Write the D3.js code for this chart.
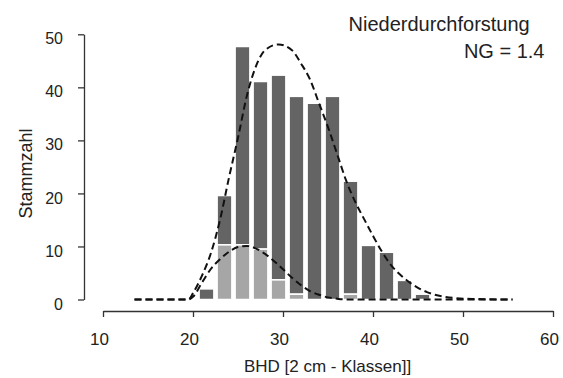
<!DOCTYPE html>
<html>
<head>
<meta charset="utf-8">
<script src="https://cdn.jsdelivr.net/npm/d3@7"></script>
<style>
  html, body { margin: 0; padding: 0; background: #fff; }
  svg { display: block; font-family: "Liberation Sans", Arial, sans-serif; }
</style>
</head>
<body>
<div id="chart"></div>
<script>
// diameter classes (bar centres, cm)
const classMid = [21.5, 23.5, 25.5, 27.5, 29.5, 31.5, 33.5, 35.5, 37.5, 39.5, 41.5, 43.5, 45.5];
// total stems per class (dark) and removed stems (light, bottom part)
const totalCount = [2, 19.6, 47.7, 41.1, 42.3, 38.3, 37, 38.3, 22.3, 10.2, 8.9, 3.6, 1.0];
const removedCount = [0, 10.3, 10.3, 9.5, 3.7, 1, 0, 0, 1, 0, 0, 0, 0];

// fitted distribution curves (dashed)
const fitX = [13.5, 19.5, 20, 21, 22, 23, 24, 25, 26, 27, 28, 29.5, 31, 32, 33, 34, 35, 36, 37, 38, 39, 40, 41, 42, 43, 44, 45, 46, 48, 51, 55.5];
const fitTotal = [0, 0, 1.2, 4.5, 8.8, 15, 23, 30.5, 38.5, 44, 47, 48.1, 47, 44.5, 41.5, 37, 32.5, 27.5, 22.5, 18.5, 15.2, 12, 9, 6.5, 4.7, 3.3, 2.2, 1.4, 0.5, 0.1, 0];
const fitRemoved = [0, 0, 0.5, 3.2, 5.8, 7.6, 9, 9.9, 10.1, 9.6, 8.6, 6.5, 4.1, 2.7, 1.6, 0.9, 0.4, 0.15, 0, 0, 0, 0, 0, 0, 0, 0, 0, 0, 0, 0, 0];

const xTicks = [10, 20, 30, 40, 50, 60];
const yTicks = [0, 10, 20, 30, 40, 50];

const width = 563, height = 378;
const halfBar = 0.82;

const svg = d3.select('#chart').append('svg')
  .attr('width', width)
  .attr('height', height);

const x = d3.scaleLinear().domain([10, 60]).range([103, 553]);
const y = d3.scaleLinear().domain([0, 50]).range([299.5, 34.3]);

// bars: removed part at the bottom, remaining part above
const bars = svg.append('g');
classMid.forEach((c, i) => {
  const rem = removedCount[i];
  const tot = totalCount[i];
  bars.append('rect')
    .attr('x', x(c - halfBar))
    .attr('width', x(c + halfBar) - x(c - halfBar))
    .attr('y', y(tot))
    .attr('height', y(rem) - y(tot))
    .attr('fill', '#646464')
    .attr('stroke', '#fff')
    .attr('stroke-width', 1.5);
  if (rem > 0) {
    bars.append('rect')
      .attr('x', x(c - halfBar))
      .attr('width', x(c + halfBar) - x(c - halfBar))
      .attr('y', y(rem))
      .attr('height', y(0) - y(rem))
      .attr('fill', '#a6a6a6')
      .attr('stroke', '#fff')
      .attr('stroke-width', 1.5);
  }
});

// dashed curves
const line = d3.line()
  .x(d => x(d[0]))
  .y(d => y(d[1]))
  .curve(d3.curveMonotoneX);

[fitTotal, fitRemoved].forEach(vals => {
  svg.append('path')
    .datum(fitX.map((v, i) => [v, vals[i]]))
    .attr('d', line)
    .attr('fill', 'none')
    .attr('stroke', '#111')
    .attr('stroke-width', 2)
    .attr('stroke-dasharray', '7,4');
});

// axes
const yAxis = svg.append('g')
  .attr('transform', 'translate(84,0)')
  .call(d3.axisLeft(y).tickValues(yTicks).tickSize(6).tickPadding(15).tickSizeOuter(0));
yAxis.selectAll('text').attr('dy', '0.6em').style('font-size', '16px');

const xAxis = svg.append('g')
  .attr('transform', 'translate(0,311)')
  .call(d3.axisBottom(x).tickValues(xTicks).tickSize(6).tickPadding(16).tickSizeOuter(0));
xAxis.selectAll('text').attr('dx', -4).style('font-size', '17px');

svg.selectAll('.domain, .tick line').attr('stroke', '#333').attr('stroke-width', 1.3);
svg.selectAll('.tick text').attr('fill', '#222').attr('font-family', null);

// titles
svg.append('text')
  .attr('x', 327.5).attr('y', 372)
  .attr('text-anchor', 'middle')
  .style('font-size', '17px').attr('fill', '#222')
  .text('BHD [2 cm - Klassen]]');

svg.append('text')
  .attr('transform', 'translate(31.5,173.4) rotate(-90)')
  .attr('text-anchor', 'middle')
  .style('font-size', '18px').attr('fill', '#222')
  .text('Stammzahl');

svg.append('text')
  .attr('x', 348.5).attr('y', 31)
  .style('font-size', '20px').attr('fill', '#222')
  .text('Niederdurchforstung');

svg.append('text')
  .attr('x', 544.5).attr('y', 58.3)
  .attr('text-anchor', 'end')
  .style('font-size', '20px').attr('fill', '#222')
  .text('NG = 1.4');
</script>
</body>
</html>
